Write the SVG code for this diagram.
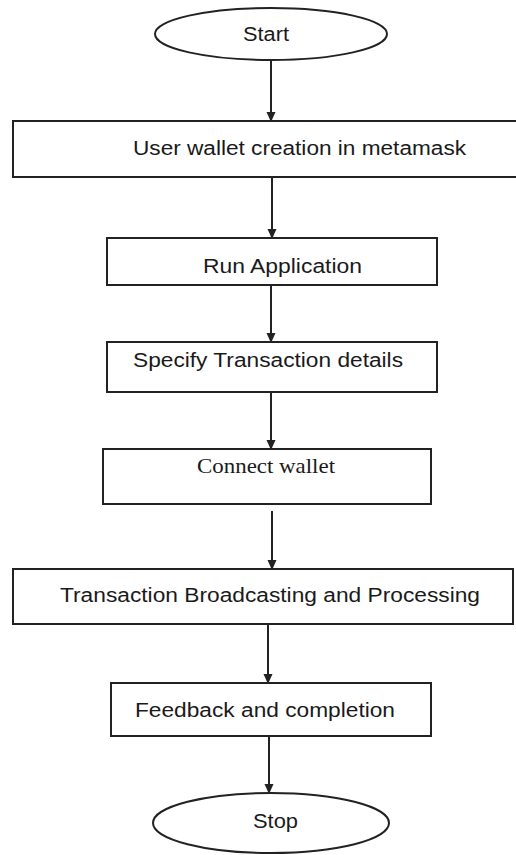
<svg xmlns="http://www.w3.org/2000/svg" width="516" height="855" viewBox="0 0 516 855">
<style>
.shape{fill:#fff;stroke:#222;stroke-width:2}
.lbl{font-family:"Liberation Sans",Arial,sans-serif;font-size:20px;fill:#1a1a1a}
.serif{font-family:"Liberation Serif","Times New Roman",serif;font-size:21px;fill:#1a1a1a}
.conn{stroke:#222;stroke-width:2;fill:none;marker-end:url(#ah)}
</style>
<defs>
<marker id="ah" markerWidth="10" markerHeight="10" refX="9" refY="5" orient="auto" markerUnits="userSpaceOnUse">
<path d="M0,0.5 L10,5 L0,9.5 Z" fill="#222"/>
</marker>
</defs>
<rect width="516" height="855" fill="#fff"/>
<g id="connectors">
<line class="conn" x1="271" y1="60" x2="271" y2="121"/>
<line class="conn" x1="272" y1="177" x2="272" y2="238"/>
<line class="conn" x1="271" y1="285" x2="271" y2="342"/>
<line class="conn" x1="271" y1="392" x2="271" y2="449"/>
<line class="conn" x1="272" y1="511" x2="272" y2="569"/>
<line class="conn" x1="268" y1="624" x2="268" y2="683"/>
<line class="conn" x1="269" y1="736" x2="269" y2="793"/>
</g>
<g id="start">
<ellipse class="shape" cx="271" cy="34" rx="116" ry="26"/>
<text class="lbl" x="243" y="41" textLength="46" lengthAdjust="spacingAndGlyphs">Start</text>
</g>
<g id="wallet-creation">
<rect class="shape" x="13" y="121" width="506" height="56"/>
<text class="lbl" x="133" y="155" textLength="333" lengthAdjust="spacingAndGlyphs">User wallet creation in metamask</text>
</g>
<g id="run-app">
<rect class="shape" x="107" y="238" width="330" height="47"/>
<text class="lbl" x="203" y="273" textLength="159" lengthAdjust="spacingAndGlyphs">Run Application</text>
</g>
<g id="specify">
<rect class="shape" x="107" y="342" width="330" height="50"/>
<text class="lbl" x="133" y="367" textLength="270" lengthAdjust="spacingAndGlyphs">Specify Transaction details</text>
</g>
<g id="connect">
<rect class="shape" x="103" y="449" width="328" height="55"/>
<text class="serif" x="197" y="473" textLength="138" lengthAdjust="spacingAndGlyphs">Connect wallet</text>
</g>
<g id="broadcast">
<rect class="shape" x="13" y="569" width="500" height="55"/>
<text class="lbl" x="60" y="602" textLength="420" lengthAdjust="spacingAndGlyphs">Transaction Broadcasting and Processing</text>
</g>
<g id="feedback">
<rect class="shape" x="111" y="683" width="320" height="53"/>
<text class="lbl" x="135" y="717" textLength="260" lengthAdjust="spacingAndGlyphs">Feedback and completion</text>
</g>
<g id="stop">
<ellipse class="shape" cx="271" cy="823" rx="118" ry="30"/>
<text class="lbl" x="253" y="828" textLength="45" lengthAdjust="spacingAndGlyphs">Stop</text>
</g>
</svg>
